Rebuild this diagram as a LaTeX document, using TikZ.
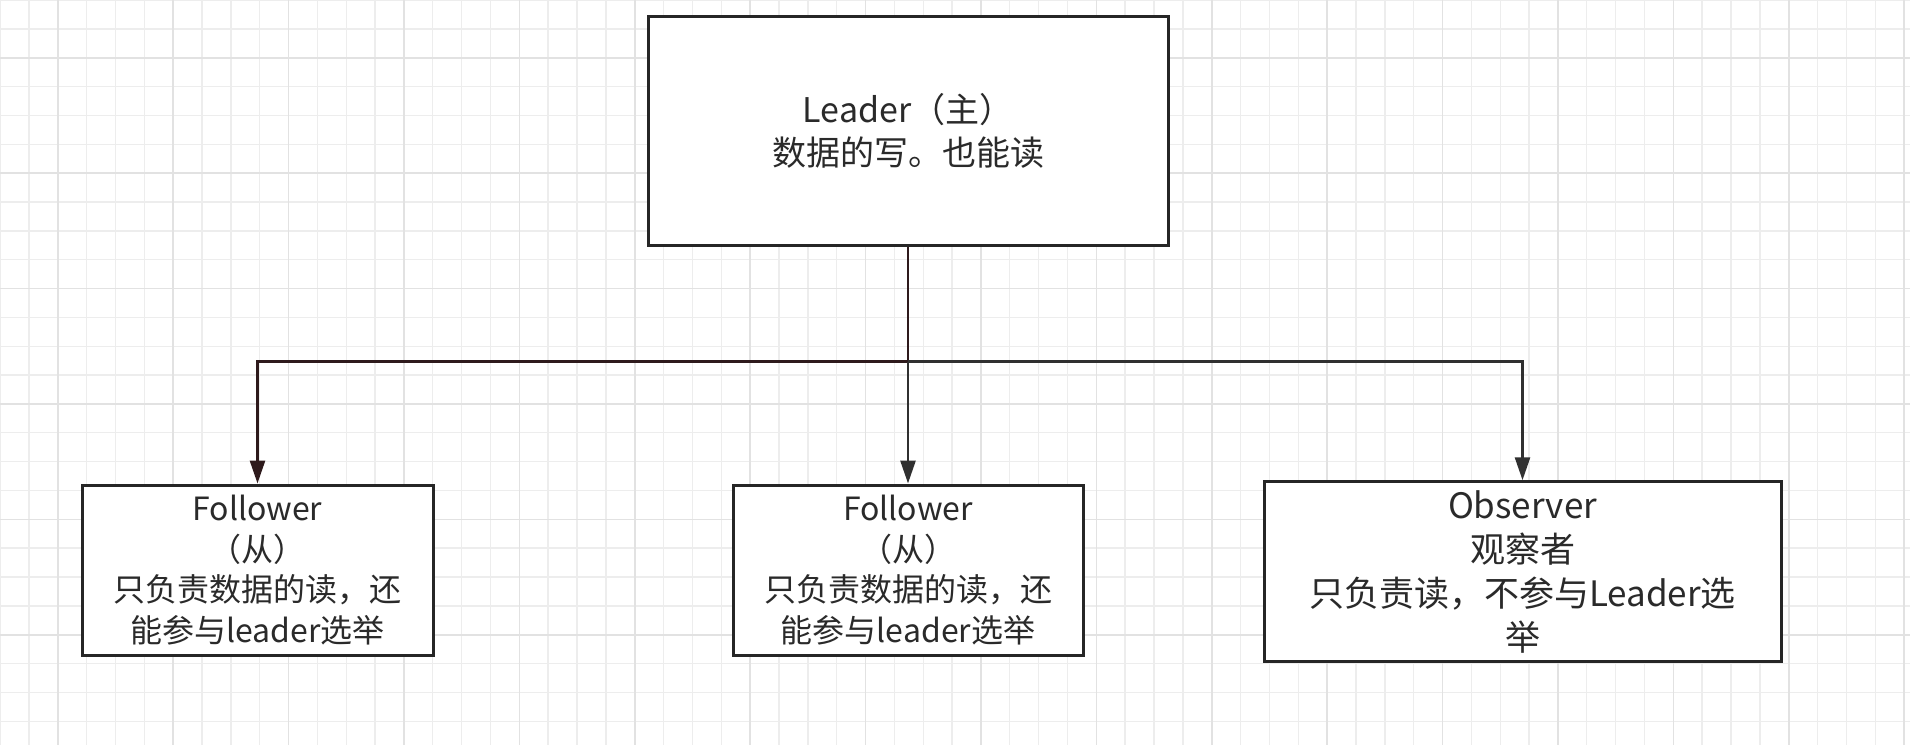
\documentclass[tikz,border=0pt]{standalone}
\usepackage{fontspec}
\setmainfont{Noto Sans CJK SC}
\usetikzlibrary{arrows.meta}
\definecolor{gridminor}{HTML}{EDEDED}
\definecolor{gridmajor}{HTML}{E2E2E2}
\definecolor{boxline}{HTML}{262626}
\definecolor{txt}{HTML}{2A2A2A}
\definecolor{linkgray}{HTML}{303030}
\definecolor{linkdark}{HTML}{2E1A1C}
\tikzset{
  box/.style={draw=boxline, line width=1.5pt, fill=white, rectangle,
    inner sep=0pt, align=center, text=txt},
  link/.style={line width=1.35pt, draw=linkgray},
  linkred/.style={line width=1.35pt, draw=linkdark},
  tip/.style={-{Triangle[width=7.5pt,length=11.5pt]}},
}
\begin{document}
\begin{tikzpicture}[x=0.5pt,y=-0.5pt]
\useasboundingbox (0,0) rectangle (1910,745);
% background grid
\fill[white] (0,0) rectangle (1910,745);
\foreach \i in {0,...,66} \draw[gridminor, line width=0.7pt] (\i*28.85,0) -- (\i*28.85,745);
\foreach \j in {0,...,25} \draw[gridminor, line width=0.7pt] (0,\j*28.85) -- (1910,\j*28.85);
\foreach \i in {2,6,...,66} \draw[gridmajor, line width=0.8pt] (\i*28.85,0) -- (\i*28.85,745);
\foreach \j in {2,6,...,25} \draw[gridmajor, line width=0.8pt] (0,\j*28.85) -- (1910,\j*28.85);

% nodes
\node[box, minimum width=260pt, minimum height=114.5pt,
  font=\fontsize{17}{21.5}\selectfont] (leader) at (908,130.5)
  {Leader（主）\\数据的写。也能读};
\node[box, minimum width=175.5pt, minimum height=85pt,
  font=\fontsize{16}{20.3}\selectfont] (f1) at (257.5,570)
  {Follower\\（从）\\只负责数据的读，还\\能参与leader选举};
\node[box, minimum width=175pt, minimum height=85pt,
  font=\fontsize{16}{20.3}\selectfont] (f2) at (908,570)
  {Follower\\（从）\\只负责数据的读，还\\能参与leader选举};
\node[box, minimum width=258.5pt, minimum height=90pt,
  font=\fontsize{17.5}{22}\selectfont] (obs) at (1522.5,571.75)
  {Observer\\观察者\\只负责读，不参与Leader选\\举};

% connectors
\coordinate (hub) at (908,361.5);
\draw[linkred] (leader.south) -- (hub);
\draw[linkred, tip] (hub) -| (f1.north);
\draw[link, tip] (hub) -- (f2.north);
\draw[link, tip] (hub) -| (obs.north);
\end{tikzpicture}
\end{document}
